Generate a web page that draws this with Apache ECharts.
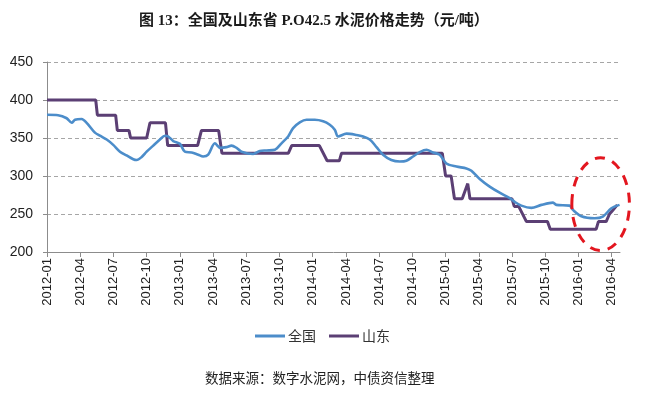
<!DOCTYPE html>
<html>
<head>
<meta charset="utf-8">
<script src="https://cdn.jsdelivr.net/npm/echarts@6/dist/echarts.min.js"></script>
<style>html,body{margin:0;padding:0;background:#fff}#c{width:648px;height:396px}</style>
</head>
<body>
<div id="c"></div>
<script>
// x = months since 2012-01
const tickLabels = ['2012-01','2012-04','2012-07','2012-10','2013-01','2013-04','2013-07','2013-10',
  '2014-01','2014-04','2014-07','2014-10','2015-01','2015-04','2015-07','2015-10','2016-01','2016-04'];
const seriesNames = ['全国', '山东'];

const qgMonths = [0,1.0,1.78,2.23,2.53,3.13,3.58,4.33,4.78,5.39,5.98,6.59,7.19,7.79,8.10,8.55,9.0,9.59,10.2,10.65,10.95,
  11.4,12.0,12.45,13.06,13.66,14.1,14.56,15.16,15.66,16.2,16.67,17.12,17.57,18.62,19.22,19.83,20.58,21.18,21.78,22.23,
  22.83,23.44,24.19,24.94,25.54,25.99,26.29,27.05,27.95,28.55,29.15,29.76,30.35,31.1,31.86,32.46,33.06,33.66,34.27,
  34.86,35.47,36.07,36.98,37.88,38.33,39.08,39.98,40.88,41.79,42.24,42.84,43.75,44.65,45.7,46.0,47.2,47.5,48.26,
  49.46,50.2,50.97,51.71];
const qgValues = [380.5,380,376,370,374,375,370,357,353,348,341,332,327,322,321,325,332,340,348,353,352,
  346,342.5,332,331,328,325.7,328,343,337,338,340,337,332,329,333,333.6,334.6,343,352,363,
  370.6,374,374,372,367.5,361,352,355.7,354,352,348,338,328,321,319,320,325.7,331.5,334.6,
  331,328,316.5,312.5,310,307,296,286,278,271,266,261,258,262,265,262,261,255.4,247,
  244.4,246.6,257.6,262];

const sdMonths = [0,4.4,4.55,6.2,6.35,7.4,7.55,9.0,9.3,10.7,10.9,13.6,13.75,13.95,15.5,15.8,21.8,22.1,24.6,25.3,26.4,26.6,
  35.7,36.0,36.5,36.8,37.5,38.0,38.2,42.0,42.2,42.6,43.3,45.2,45.45,49.6,49.8,50.5,50.8,51.1,51.5];
const sdValues = [400,400,380,380,360,360,350,350,370,370,340,340,338,360,360,330,330,340,340,320,320,330,
  330,300,300,270,270,290,270,270,260,260,240,240,230,230,240,240,250,255,262];

const chart = echarts.init(document.getElementById('c'), null, {renderer: 'canvas'});
const zip = (a, b) => a.map((v, i) => [v, b[i]]);

chart.setOption({
  backgroundColor: '#ffffff',
  animation: false,
  title: [{
    text: '图 13：全国及山东省 P.O42.5 水泥价格走势（元/吨）',
    left: 134, top: 9,
    textStyle: {fontSize: 15, fontWeight: 'bold', color: '#1a1a1a', fontFamily: 'Liberation Serif, "Noto Sans CJK SC"'}
  }, {
    text: '数据来源：数字水泥网，中债资信整理',
    left: 200, top: 366,
    textStyle: {fontSize: 13.5, fontWeight: 'normal', color: '#222', fontFamily: '"Noto Sans CJK SC"'}
  }],
  legend: {
    left: 250, top: 324,
    icon: 'rect',
    itemWidth: 30, itemHeight: 3, itemGap: 13,
    textStyle: {fontSize: 14, color: '#333', fontFamily: '"Noto Sans CJK SC"', padding: [0, 0, 0, -2]},
    data: seriesNames
  },
  grid: {left: 47, right: 28, top: 62, bottom: 144, containLabel: false},
  xAxis: {
    type: 'value', min: 0, max: 51.75, interval: 3,
    axisLine: {show: true, lineStyle: {color: '#8c8c8c', width: 1}},
    axisTick: {show: true, length: 5, lineStyle: {color: '#8c8c8c'}},
    splitLine: {show: false},
    axisLabel: {
      rotate: 90, fontSize: 13, color: '#222', margin: 6, fontFamily: 'Liberation Sans, Arial',
      showMaxLabel: false,
      formatter: v => { const i = Math.round(v / 3); return Math.abs(v - i * 3) < 1e-6 && tickLabels[i] ? tickLabels[i] : ''; }
    }
  },
  yAxis: {
    type: 'value', min: 200, max: 450, interval: 50,
    axisLine: {show: true, lineStyle: {color: '#8c8c8c', width: 1}},
    axisTick: {show: true, length: 4, lineStyle: {color: '#8c8c8c'}},
    splitLine: {show: true, lineStyle: {color: '#a6a6a6', type: [4, 3], width: 1}},
    axisLabel: {fontSize: 14, color: '#222', margin: 14, fontFamily: 'Liberation Sans, Arial'}
  },
  series: [{
    name: seriesNames[0], type: 'line', data: zip(qgMonths, qgValues),
    symbol: 'none', smooth: 0.3,
    lineStyle: {color: '#4C8DCA', width: 2.6}, itemStyle: {color: '#4C8DCA'}, z: 3
  }, {
    name: seriesNames[1], type: 'line', data: zip(sdMonths, sdValues),
    symbol: 'none',
    lineStyle: {color: '#5B3F74', width: 3}, itemStyle: {color: '#5B3F74'}, z: 2
  }]
});

// red dashed highlight ellipse, placed in data coordinates
const c0 = chart.convertToPixel({gridIndex: 0}, [50.0, 263]);
const c1 = chart.convertToPixel({gridIndex: 0}, [52.6, 324]);
chart.setOption({
  graphic: [{
    type: 'ellipse', z: 100,
    shape: {cx: c0[0], cy: c0[1], rx: Math.abs(c1[0] - c0[0]), ry: Math.abs(c0[1] - c1[1])},
    style: {fill: 'none', stroke: '#E3161F', lineWidth: 3, lineDash: [10, 8]}
  }]
});
</script>
</body>
</html>
